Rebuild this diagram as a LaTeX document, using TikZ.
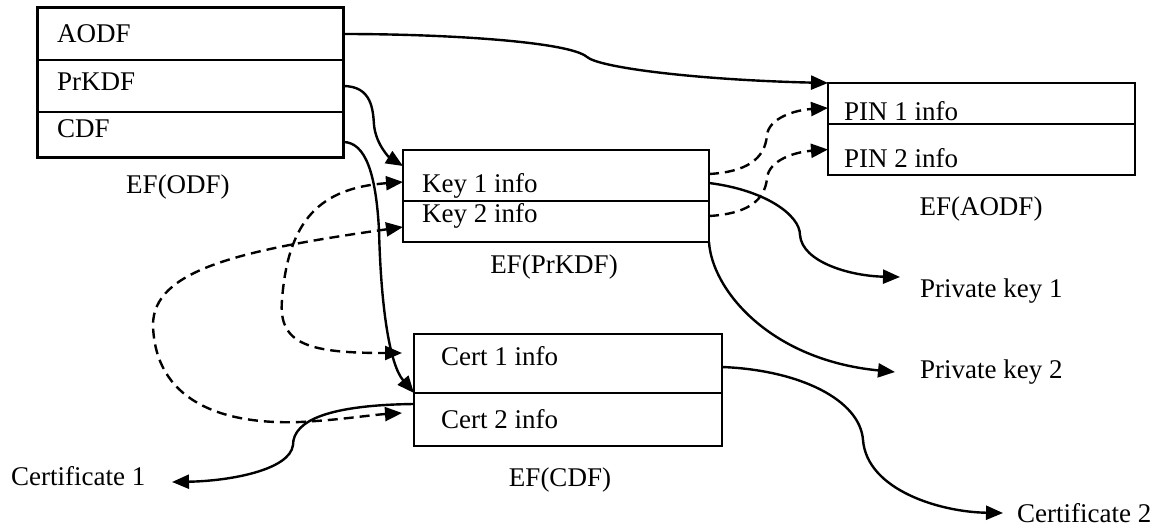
\documentclass[tikz,border=0pt]{standalone}
\usepackage{fontspec}
\setmainfont{Liberation Serif}
\usetikzlibrary{arrows.meta,calc}
\begin{document}
\begin{tikzpicture}[x=1pt,y=-1pt,
  rowbox/.style={draw, line width=1.8pt, rectangle, inner sep=0pt, outer sep=0pt},
  txt/.style={anchor=base west, inner sep=0pt, font=\fontsize{27}{31}\selectfont},
  lbl/.style={anchor=base, inner sep=0pt, font=\fontsize{27}{31}\selectfont},
  conn/.style={line width=2.4pt, -{Triangle[length=17pt,width=14pt]}},
  dconn/.style={line width=2.4pt, dash pattern=on 10pt off 6pt}
]
\useasboundingbox (0,0) rectangle (1159,527);

% EF(ODF)
\node[rowbox, minimum width=306pt, minimum height=52pt] (aodf) at (190,34) {};
\node[rowbox, minimum width=306pt, minimum height=52pt] (prkdf) at (190,86) {};
\node[rowbox, minimum width=306pt, minimum height=45pt] (cdf) at (190,134.5) {};
\draw[line width=3pt] (aodf.north west) rectangle (cdf.south east);
\node[txt] (taodf) at (57,43) {AODF};
\node[txt] (tprkdf) at (57,90) {PrKDF};
\node[txt] (tcdf) at (57,137) {CDF};
\node[lbl] (lodf) at (178,193) {EF(ODF)};

% EF(PrKDF)
\node[rowbox, minimum width=306pt, minimum height=51pt] (key1) at (556,175.5) {};
\node[rowbox, minimum width=306pt, minimum height=41pt] (key2) at (556,221.5) {};
\draw[line width=2.4pt] (key1.north west) rectangle (key2.south east);
\node[txt] (tkey1) at (422,192) {Key 1 info};
\node[txt] (tkey2) at (422,222) {Key 2 info};
\node[lbl] (lprkdf) at (554,273) {EF(PrKDF)};

% EF(AODF)
\node[rowbox, minimum width=307pt, minimum height=41pt] (pin1) at (981.5,103.5) {};
\node[rowbox, minimum width=307pt, minimum height=51pt] (pin2) at (981.5,149.5) {};
\draw[line width=2.4pt] (pin1.north west) rectangle (pin2.south east);
\node[txt] (tpin1) at (844,120) {PIN 1 info};
\node[txt] (tpin2) at (844,167) {PIN 2 info};
\node[lbl] (laodf) at (981,215) {EF(AODF)};

% EF(CDF)
\node[rowbox, minimum width=308pt, minimum height=59pt] (cert1) at (568,363.5) {};
\node[rowbox, minimum width=308pt, minimum height=53pt] (cert2) at (568,419.5) {};
\draw[line width=2.2pt] (cert1.north west) rectangle (cert2.south east);
\node[txt] (tcert1) at (441,365) {Cert 1 info};
\node[txt] (tcert2) at (441,428) {Cert 2 info};
\node[lbl] (lcdf) at (560,486) {EF(CDF)};

% outer labels
\node[txt] (pk1) at (920,297) {Private key 1};
\node[txt] (pk2) at (920,378) {Private key 2};
\node[txt] (crt2) at (1017,522) {Certificate 2};
\node[txt] (crt1) at (11,485) {Certificate 1};

% connector end points
\coordinate (k1in) at ($(key1.north west)+(0,16)$);
\coordinate (k1dash) at ($(key1.west)+(0,6.5)$);
\coordinate (k2dash) at ($(key2.west)+(0,5.5)$);
\coordinate (c1dash) at ($(cert1.west)+(-12,-10.5)$);
\coordinate (c2dash) at ($(cert2.west)+(-12,-6.5)$);
\coordinate (cdfout) at ($(cdf.east)+(0,7.5)$);
\coordinate (p1in) at ($(pin1.west)+(0,4.5)$);
\coordinate (k2out) at ($(key2.east)+(0,-5.5)$);
\coordinate (k1out) at ($(key1.east)+(0,7.5)$);
\coordinate (c1out) at ($(cert1.east)+(0,3.5)$);
\coordinate (c2out) at ($(cert2.north west)+(0,11)$);
\coordinate (pk1in) at (900,277);
\coordinate (pk2in) at (895,372);
\coordinate (crt2in) at (1003,513);
\coordinate (crt1in) at (172,482);

% solid connectors
\draw[conn] (aodf.east) .. controls (450,34) and (570,42) .. (587,57)
  .. controls (600,68) and (700,80) .. (pin1.north west);
\draw[conn] (prkdf.east) .. controls (372,86) and (373,110) .. (374,125)
  .. controls (376,145) and (390,158) .. (k1in);
\draw[conn] (cdfout) .. controls (366,142) and (376,175) .. (379,230)
  .. controls (381,310) and (390,365) .. (cert2.north west);
\draw[conn] (k1out) .. controls (765,190) and (800,215) .. (800,235)
  .. controls (802,262) and (850,276) .. (pk1in);
\draw[conn] (key2.south east) .. controls (712,290) and (770,360) .. (pk2in);
\draw[conn] (c1out) .. controls (800,370) and (860,400) .. (863,440)
  .. controls (867,490) and (940,512) .. (crt2in);
\draw[conn] (c2out) .. controls (330,405) and (293,420) .. (293,445)
  .. controls (290,470) and (230,481) .. (crt1in);

% dashed connectors
\draw[dconn, {Triangle[length=17pt,width=14pt]}-{Triangle[length=17pt,width=14pt]}]
  (k1dash) .. controls (320,188) and (288,220) .. (282,300)
  .. controls (278,345) and (310,353) .. (c1dash);
\draw[dconn, {Triangle[length=17pt,width=14pt]}-{Triangle[length=17pt,width=14pt]}]
  (k2dash) .. controls (240,250) and (153,270) .. (153,325)
  .. controls (155,400) and (220,425) .. (300,422)
  .. controls (340,420) and (370,415) .. (c2dash);
\draw[dconn, -{Triangle[length=17pt,width=14pt]}]
  ($(key1.east)+(0,-1.5)$) .. controls (745,172) and (765,160) .. (767,135)
  .. controls (769,118) and (795,110) .. (p1in);
\draw[dconn, -{Triangle[length=17pt,width=14pt]}]
  (k2out) .. controls (745,214) and (765,202) .. (767,178)
  .. controls (769,160) and (795,152) .. (pin2.west);
\end{tikzpicture}
\end{document}
